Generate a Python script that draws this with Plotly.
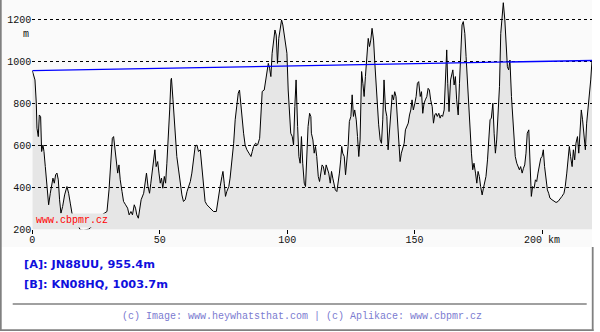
import plotly.graph_objects as go

# ---- data ----
distance_km = [
    0.0, 1.05, 1.57, 1.83, 2.35, 2.75, 3.27, 3.66, 4.18, 4.58, 5.10, 5.75, 6.41, 7.06, 7.58, 8.10, 8.63, 9.15, 9.67, 10.2,
    10.7, 11.24, 11.9, 12.68, 13.6, 14.25, 14.9, 15.56, 16.2, 17.5, 18.8, 20.1, 22.1, 23.4, 24.7, 26.0, 27.3, 28.6, 29.3,
    30.1, 30.7, 31.4, 31.9, 32.4, 32.9, 33.5, 34.0, 34.5, 35.2, 35.8, 36.6, 37.4, 38.0, 38.7, 39.3, 40.0, 40.5, 41.0, 41.6,
    42.1, 42.7, 43.7, 44.3, 44.8, 45.4, 46.0, 46.5, 47.0, 47.6, 48.1, 48.6, 49.2, 49.7, 50.2, 50.7, 51.2, 51.8, 52.3, 52.8,
    53.3, 53.9, 54.4, 54.6, 55.2, 55.7, 56.2, 56.7, 57.4, 58.0, 58.7, 59.3, 60.0, 60.7, 61.3, 62.0, 62.6, 63.3, 63.9, 64.6,
    65.2, 65.9, 66.5, 67.2, 67.8, 68.5, 69.8, 71.1, 72.2, 72.7, 73.2, 73.7, 74.4, 74.8, 75.3, 75.8, 76.3, 77.1, 77.6, 78.3,
    79.0, 79.6, 80.3, 80.8, 81.3, 81.8, 82.4, 82.9, 83.5, 84.2, 85.0, 85.8, 86.3, 86.8, 87.6, 88.4, 89.2, 89.7, 90.2, 91.0,
    91.5, 92.0, 92.6, 93.1, 93.6, 94.1, 94.6, 95.2, 95.7, 96.2, 96.7, 97.3, 97.8, 98.3, 98.8, 99.3, 99.9, 100.4, 100.9,
    101.4, 102.0, 102.5, 103.0, 103.5, 104.1, 104.6, 105.1, 105.6, 106.1, 106.7, 107.2, 107.7, 108.2, 108.8, 109.3,
    109.5, 110.1, 110.6, 111.1, 111.6, 112.2, 112.7, 113.2, 113.7, 114.2, 114.8, 115.3, 115.8, 116.3, 116.9, 117.4, 117.9,
    118.4, 118.9, 119.5, 120.0, 120.5, 121.0, 121.4, 121.8, 122.4, 122.9, 123.4, 123.9, 124.4, 125.0, 125.5, 126.0, 126.5,
    127.1, 127.6, 128.1, 128.6, 129.2, 129.7, 130.2, 130.7, 131.2, 131.8, 132.3, 132.8, 133.3, 133.9, 134.4, 134.9, 135.4,
    135.9, 136.5, 137.0, 137.5, 138.0, 138.6, 139.1, 139.6, 140.1, 140.7, 141.2, 141.7, 142.2, 142.7, 143.3, 143.8, 144.3,
    144.8, 145.4, 145.9, 146.4, 146.9, 147.5, 148.0, 148.5, 149.0, 149.5, 150.1, 150.6, 151.1, 151.6, 152.2, 152.7, 153.2,
    153.7, 154.2, 154.8, 155.3, 155.8, 156.3, 156.9, 157.4, 157.9, 158.4, 158.9, 159.5, 160.0, 160.5, 161.0, 161.6, 162.1,
    162.6, 163.0, 163.5, 164.1, 165.0, 165.5, 166.0, 166.5, 167.1, 167.6, 168.1, 168.6, 169.1, 169.7, 170.2, 170.7, 171.2,
    171.8, 172.3, 172.8, 173.3, 173.9, 174.4, 174.9, 175.4, 175.9, 176.5, 177.0, 177.5, 178.0, 178.6, 179.1, 179.6, 180.1,
    180.7, 181.2, 181.7, 182.2, 182.7, 183.3, 183.8, 184.3, 184.8, 185.4, 185.9, 186.4, 186.9, 187.4, 188.0, 188.5, 189.0,
    189.5, 190.1, 190.6, 191.1, 191.6, 192.2, 192.7, 193.2, 193.7, 194.2, 194.8, 195.3, 195.8, 196.3, 196.9, 197.4, 197.9,
    198.4, 199.0, 199.5, 200.0, 200.5, 201.0, 201.6, 202.1, 202.6, 203.1, 203.9, 204.7, 205.5, 206.3, 207.1, 207.8, 208.6,
    209.1, 209.7, 210.2, 210.7, 211.2, 211.8, 212.3, 212.8, 213.3, 213.9, 214.4, 214.9, 215.4, 215.9, 216.5, 217.0, 217.5,
    218.0, 218.6, 219.1, 219.6,
]
elevation_m = [
    955, 911, 800, 681, 641, 744, 736, 570, 601, 570, 498, 403, 316, 371, 419, 443, 419, 459, 467, 435,
    340, 276, 308, 363, 403, 371, 324, 276, 260, 229, 197, 194, 200, 213, 236, 263, 268, 276, 284,
    387, 530, 633, 641, 594, 546, 467, 506, 435, 379, 332, 316, 300, 268, 284, 268, 316, 300, 268, 252,
    292, 340, 371, 435, 467, 403, 371, 419, 467, 546, 578, 498, 522, 467, 419, 443, 395, 451, 419, 514,
    609, 768, 911, 919, 816, 721, 609, 546, 482, 419, 363, 332, 340, 379, 403, 427, 467, 530, 594, 601,
    570, 578, 498, 403, 332, 316, 300, 284, 284, 324, 379, 403, 451, 475, 419, 356, 379, 403, 443, 530,
    609, 721, 816, 848, 863, 784, 721, 657, 601, 578, 562, 546, 570, 594, 609, 601, 633, 768, 856, 863,
    903, 927, 990, 967, 927, 1038, 1101, 1149, 1125, 990, 1109, 1165, 1197, 1173, 1133, 1093, 1038, 863, 768,
    657, 641, 601, 784, 911, 689, 546, 514, 641, 514, 419, 403, 562, 689, 752, 736,
    657, 625, 562, 594, 546, 451, 427, 483, 506, 498, 459, 506, 483, 467, 419, 475, 443,
    411, 387, 379, 419, 467, 530, 594, 562, 546, 459, 530, 594, 713, 737, 840, 737, 768,
    721, 641, 546, 625, 951, 895, 832, 927, 1006, 1109, 1070, 1101, 1157, 1101, 990, 879, 784,
    697, 625, 609, 721, 911, 768, 737, 578, 657, 784, 840, 816, 855, 832, 721, 594, 522,
    562, 594, 609, 673, 689, 705, 744, 768, 816, 768, 800, 832, 895, 903, 832, 855, 752,
    800, 816, 832, 871, 863, 816, 784, 705, 744, 752, 737, 752, 729, 744, 737, 768, 895,
    1054, 895, 760, 911, 959, 887, 927, 816, 744, 895, 1070, 1173, 1189, 1133, 1022, 895, 768,
    657, 562, 483, 514, 467, 419, 475, 451, 403, 363, 395, 435, 451, 530, 641, 721, 729,
    800, 657, 562, 625, 768, 879, 1133, 1213, 1279, 1197, 1086, 974, 959, 1006, 832, 737, 625,
    546, 514, 498, 483, 498, 467, 490, 506, 562, 657, 673, 467, 356, 403, 395, 435, 427,
    467, 498, 538, 546, 578, 498, 435, 387, 371, 348, 340, 332, 327, 332, 348, 356, 371,
    403, 467, 530, 594, 546, 498, 578, 530, 609, 641, 562, 657, 768, 721, 625, 578, 705,
    768, 816, 911, 1004,
]
sight_km = [0.0, 219.6]
sight_m = [955.4, 1003.7]

x_tick_vals = [0, 50, 100, 150, 200]
x_tick_text = ["0", "50", "100", "150", "200 km"]
y_tick_vals = [200, 400, 600, 800, 1000, 1200]

point_a = "[A]: JN88UU, 955.4m"
point_b = "[B]: KN08HQ, 1003.7m"
footer = "(c) Image: www.heywhatsthat.com | (c) Aplikace: www.cbpmr.cz"
watermark = "www.cbpmr.cz"

W, H = 600, 332


def px(x):
    return x / W


def py(y):
    return (H - y) / H


MONO = "Liberation Mono"

fig = go.Figure()
fig.add_trace(go.Scatter(
    x=distance_km, y=elevation_m, mode="lines",
    line=dict(color="black", width=1),
    fill="tozeroy", fillcolor="rgba(0,0,0,0.08)",
    hoverinfo="skip", showlegend=False,
))
fig.add_trace(go.Scatter(
    x=sight_km, y=sight_m, mode="lines",
    line=dict(color="#0000ff", width=1.3),
    hoverinfo="skip", showlegend=False,
))

shapes = [
    # chart image background
    dict(type="rect", xref="paper", yref="paper", x0=px(0), x1=px(592), y0=py(247), y1=py(0),
         fillcolor="#fafafa", line=dict(width=0), layer="below"),
    # separator
    dict(type="line", xref="paper", yref="paper", x0=px(12.7), x1=px(586.7), y0=py(304), y1=py(304),
         line=dict(color="#808080", width=1.5)),
    # borders
    dict(type="line", xref="paper", yref="paper", x0=px(0.8), x1=px(0.8), y0=py(0), y1=py(331),
         line=dict(color="#808080", width=1.8)),
    dict(type="line", xref="paper", yref="paper", x0=px(0), x1=px(593.5), y0=py(330.2), y1=py(330.2),
         line=dict(color="#808080", width=1.8)),
    dict(type="line", xref="paper", yref="paper", x0=px(592.7), x1=px(592.7), y0=py(247), y1=py(331),
         line=dict(color="#808080", width=1.8)),
]

annotations = [
    dict(text="m", xref="paper", yref="paper", x=px(26), y=py(35), showarrow=False,
         font=dict(family=MONO, size=10, color="#111"), xanchor="center", yanchor="middle"),
    dict(text=watermark, xref="paper", yref="paper", x=px(72), y=py(220), showarrow=False,
         font=dict(family=MONO, size=10, color="#ff0000"), xanchor="center", yanchor="middle",
         bgcolor="#e6e6e6", borderpad=1),
    dict(text=point_a, xref="paper", yref="paper", x=px(22), y=py(264), showarrow=False,
         font=dict(family="DejaVu Sans", size=11.3, color="#1010dd", weight="bold"),
         xanchor="left", yanchor="middle"),
    dict(text=point_b, xref="paper", yref="paper", x=px(22), y=py(284), showarrow=False,
         font=dict(family="DejaVu Sans", size=11.3, color="#1010dd", weight="bold"),
         xanchor="left", yanchor="middle"),
    dict(text=footer, xref="paper", yref="paper", x=px(301.7), y=py(316.7), showarrow=False,
         font=dict(family=MONO, size=10, color="#7b7bd0"), xanchor="center", yanchor="middle"),
]

y_top = 200 + 229.3 * 200 / 42

fig.update_layout(
    width=W, height=H,
    margin=dict(l=0, r=0, t=0, b=0, autoexpand=False),
    paper_bgcolor="white",
    plot_bgcolor="#fafafa",
    shapes=shapes,
    annotations=annotations,
    xaxis=dict(
        domain=[px(32.3), px(592)], range=[0, 219.6], automargin=False,
        tickvals=x_tick_vals, ticktext=x_tick_text,
        ticks="outside", ticklen=4, tickcolor="black", tickwidth=1,
        ticklabelstandoff=-3,
        showgrid=False, zeroline=False, showline=False,
        tickfont=dict(family=MONO, size=10, color="#111"),
    ),
    yaxis=dict(
        domain=[py(229.3), 1], range=[199.2, y_top], automargin=False,
        tickvals=y_tick_vals,
        ticks="", showgrid=True, gridcolor="black", gridwidth=1, griddash="3px,3px",
        zeroline=False, showline=False,
        tickfont=dict(family=MONO, size=10, color="#111"),
    ),
)

fig.write_html(
    "out.html",
    config={"displayModeBar": False, "staticPlot": True},
    post_script="document.body.style.margin='0';document.body.style.padding='0';",
)
